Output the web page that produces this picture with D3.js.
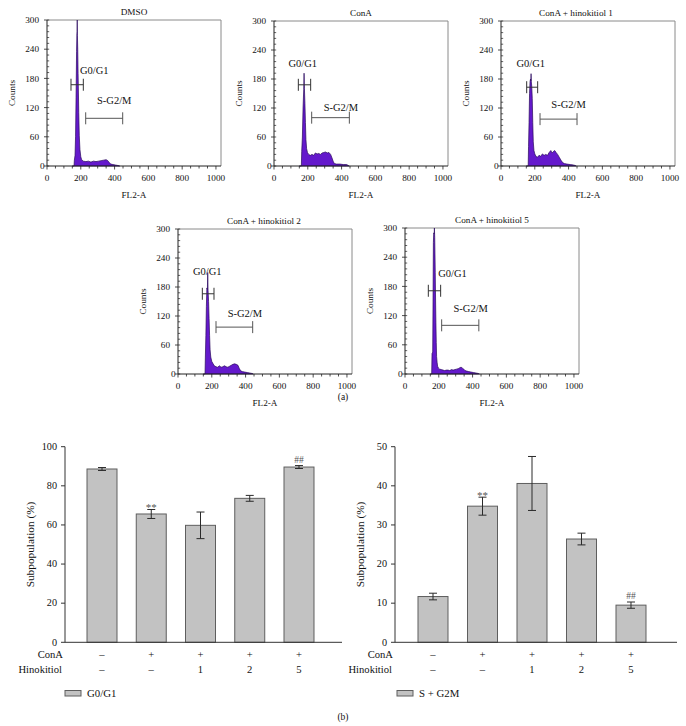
<!DOCTYPE html>
<html><head><meta charset="utf-8">
<script src="https://cdn.jsdelivr.net/npm/d3@7"></script>
<style>
html,body{margin:0;padding:0;background:#fff;}
svg{display:block;}
text{font-family:"Liberation Serif","DejaVu Serif",serif;fill:#111;}
</style>
</head><body>
<svg id="c" width="686" height="726"></svg>
<script>
// ---------------- DATA ----------------
const histTitles = ["DMSO", "ConA", "ConA + hinokitiol 1", "ConA + hinokitiol 2", "ConA + hinokitiol 5"];
const histXTicks = [0, 200, 400, 600, 800, 1000];
const histYTicks = [0, 60, 120, 180, 240, 300];

// [FL2-A channel, counts]
const histDMSO = [[150,0],[160,0],[162,12],[166,22],[169,60],[172,140],[175,235],[177,272],[178,276],[179,300],[180,268],[182,240],[184,190],[186,150],[188,110],[191,62],[195,34],[200,19],[205,13],[215,10],[230,9],[245,10],[260,8],[275,10],[290,9],[305,10],[320,11],[335,12],[350,13],[360,11],[368,7],[378,4],[390,3],[405,2],[420,1],[430,0]];
const histConA = [[150,0],[162,0],[164,30],[168,60],[172,120],[176,158],[178,192],[180,160],[183,130],[186,90],[189,55],[193,36],[198,28],[205,24],[215,22],[225,24],[235,22],[245,27],[255,25],[265,26],[275,24],[285,27],[295,28],[305,29],[315,27],[325,28],[335,24],[343,17],[350,10],[357,5],[370,4],[390,4],[410,3],[430,3],[440,1],[445,0]];
const histH1 = [[150,0],[161,0],[163,40],[166,90],[169,150],[172,175],[175,180],[177,176],[178,191],[179,176],[182,165],[185,140],[188,90],[191,50],[195,32],[200,25],[207,20],[215,18],[225,22],[235,20],[245,25],[255,22],[265,24],[275,22],[285,28],[295,32],[302,27],[310,30],[318,32],[326,28],[335,24],[345,18],[355,12],[365,7],[375,5],[390,4],[410,3],[430,2],[440,1],[445,0]];
const histH2 = [[150,0],[160,0],[162,35],[165,80],[168,140],[171,178],[174,175],[176,210],[178,172],[181,150],[184,115],[187,80],[190,50],[194,35],[200,26],[208,21],[215,17],[225,15],[235,14],[245,17],[255,14],[265,15],[275,17],[285,15],[295,14],[305,16],[315,18],[325,20],[335,21],[345,20],[355,18],[362,12],[370,7],[380,5],[395,4],[410,3],[425,2],[440,1],[445,0]];
const histH5 = [[150,0],[158,0],[160,42],[164,45],[166,150],[168,270],[170,290],[173,288],[174,300],[176,280],[179,208],[181,150],[183,105],[185,65],[187,36],[190,24],[193,16],[198,12],[205,10],[215,9],[225,8],[235,7],[245,8],[255,8],[265,7],[275,9],[285,8],[295,9],[305,10],[315,11],[325,13],[332,14],[340,12],[348,10],[355,7],[365,6],[377,5],[390,4],[405,3],[420,2],[435,1],[440,0]];
const histSeries = [histDMSO, histConA, histH1, histH2, histH5];

// gates: [from channel, to channel, counts level]
const gateG0G1 = [[142,215,167],[144,217,168],[152,217,163],[144,213,166],[138,211,171]];
const gateSG2M = [[229,448,98],[223,446,100],[231,450,97],[225,442,97],[217,437,100]];
const gateNames = ["G0/G1", "S-G2/M"];

// bar charts
const conaRow = ["\u2013", "+", "+", "+", "+"];
const hinoRow = ["\u2013", "\u2013", "1", "2", "5"];
const groups = ["g1", "g2", "g3", "g4", "g5"];
const g0g1Mean = [88.6, 65.6, 59.8, 73.6, 89.6];
const g0g1Err  = [0.75, 2.3, 6.8, 1.5, 0.75];
const g0g1Sig  = ["", "**", "", "", "##"];
const sg2mMean = [11.7, 34.8, 40.6, 26.4, 9.5];
const sg2mErr  = [0.85, 2.3, 6.9, 1.5, 0.8];
const sg2mSig  = ["", "**", "", "", "##"];
const g0g1Ticks = [0, 20, 40, 60, 80, 100];
const sg2mTicks = [0, 10, 20, 30, 40, 50];

// ---------------- LAYOUT ----------------
const histLayout = [
  {x0:47,  yTop:20,  yBot:166, tdx:0,   gl:{ch:195,c:190,a:"start"},  sl:{ch:398,c:128}},
  {x0:274, yTop:21,  yBot:166, tdx:0,   gl:{ch:170,c:205,a:"middle"}, sl:{ch:396,c:113}},
  {x0:501, yTop:21,  yBot:166, tdx:-12, gl:{ch:176,c:205,a:"middle"}, sl:{ch:400,c:120}},
  {x0:178, yTop:229, yBot:374, tdx:-1,  gl:{ch:173,c:204,a:"middle"}, sl:{ch:396,c:118}},
  {x0:405, yTop:228, yBot:374, tdx:0,   gl:{ch:197,c:199,a:"start"},  sl:{ch:389,c:128}}
];

const svg = d3.select("#c");

function drawHist(i) {
  const L = histLayout[i];
  const g = svg.append("g");
  const x = d3.scaleLinear().domain([0, 1024]).range([L.x0, L.x0 + 173]);
  const y = d3.scaleLinear().domain([0, 300]).range([L.yBot, L.yTop]);
  const xr = L.x0 + 174;

  g.append("line").attr("x1", L.x0).attr("x2", xr).attr("y1", L.yTop).attr("y2", L.yTop).attr("stroke", "#8a8a8a").attr("stroke-width", 1);
  g.append("line").attr("x1", xr).attr("x2", xr).attr("y1", L.yTop).attr("y2", L.yBot).attr("stroke", "#8a8a8a").attr("stroke-width", 1);

  const area = d3.area().x(d => x(d[0])).y0(y(0)).y1(d => y(d[1]));
  g.append("path").datum(histSeries[i]).attr("d", area)
    .attr("fill", "#6419cc").attr("stroke", "#2a0a5c").attr("stroke-width", 0.7);

  g.append("line").attr("x1", L.x0).attr("x2", L.x0).attr("y1", L.yTop).attr("y2", L.yBot).attr("stroke", "#222").attr("stroke-width", 1);
  g.append("line").attr("x1", L.x0).attr("x2", xr).attr("y1", L.yBot).attr("y2", L.yBot).attr("stroke", "#222").attr("stroke-width", 1);

  g.selectAll(".xm").data(d3.range(0, 1001, 50)).enter().append("line")
    .attr("x1", d => x(d)).attr("x2", d => x(d)).attr("y1", L.yBot).attr("y2", d => L.yBot + (d % 200 === 0 ? 3.5 : 2.5))
    .attr("stroke", "#222").attr("stroke-width", 0.8);
  g.selectAll(".xl").data(histXTicks).enter().append("text")
    .attr("x", d => x(d)).attr("y", L.yBot + 14.5).attr("text-anchor", "middle")
    .attr("font-size", 9.2).text(d => d);

  g.selectAll(".ym").data(d3.range(0, 301, 12)).enter().append("line")
    .attr("x1", L.x0).attr("x2", L.x0 + 2.2).attr("y1", d => y(d)).attr("y2", d => y(d))
    .attr("stroke", "#222").attr("stroke-width", 0.7);
  g.selectAll(".yM").data(histYTicks).enter().append("line")
    .attr("x1", L.x0 - 3).attr("x2", L.x0).attr("y1", d => y(d)).attr("y2", d => y(d))
    .attr("stroke", "#222").attr("stroke-width", 0.8);
  g.selectAll(".yl").data(histYTicks).enter().append("text")
    .attr("x", d => d === 0 ? L.x0 - 2.5 : L.x0 - 8).attr("y", d => y(d) + 3.2)
    .attr("text-anchor", "end").attr("font-size", 9.2).text(d => d);

  g.append("text").attr("x", L.x0 + 87 + L.tdx).attr("y", L.yTop - 5.5).attr("text-anchor", "middle")
    .attr("font-size", 9.2).text(histTitles[i]);
  g.append("text").attr("x", L.x0 + 87).attr("y", L.yBot + 32).attr("text-anchor", "middle")
    .attr("font-size", 9.2).text("FL2-A");
  g.append("text").attr("transform", `translate(${L.x0 - 32},${(L.yTop + L.yBot) / 2}) rotate(-90)`)
    .attr("text-anchor", "middle").attr("font-size", 9.2).text("Counts");

  const gates = [gateG0G1[i], gateSG2M[i]];
  gates.forEach((gt, k) => {
    const col = k === 0 ? "#333" : "#555";
    const yy = y(gt[2]);
    g.append("line").attr("x1", x(gt[0])).attr("x2", x(gt[1])).attr("y1", yy).attr("y2", yy).attr("stroke", col).attr("stroke-width", 1);
    [gt[0], gt[1]].forEach(c => {
      g.append("line").attr("x1", x(c)).attr("x2", x(c)).attr("y1", yy - 6).attr("y2", yy + 6).attr("stroke", col).attr("stroke-width", 1);
    });
  });
  g.append("text").attr("x", x(L.gl.ch)).attr("y", y(L.gl.c)).attr("text-anchor", L.gl.a)
    .attr("font-size", 10.5).text(gateNames[0]);
  g.append("text").attr("x", x(L.sl.ch)).attr("y", y(L.sl.c)).attr("text-anchor", "middle")
    .attr("font-size", 10.5).text(gateNames[1]);
}
for (let i = 0; i < 5; i++) drawHist(i);

svg.append("text").attr("x", 343).attr("y", 400).attr("text-anchor", "middle").attr("font-size", 9.5).text("(a)");
svg.append("text").attr("x", 343).attr("y", 720).attr("text-anchor", "middle").attr("font-size", 9.5).text("(b)");

// ---------------- BAR CHARTS ----------------
function drawBars(cfg) {
  const g = svg.append("g");
  const x = d3.scaleBand().domain(groups).range(cfg.xr).paddingInner(cfg.p).paddingOuter(cfg.p);
  const y = d3.scaleLinear().domain([0, cfg.max]).range([642.3, 446.7]);
  const ax = cfg.axisX;

  g.selectAll(".bar").data(cfg.mean).enter().append("rect")
    .attr("x", (d, i) => x(groups[i])).attr("width", x.bandwidth())
    .attr("y", d => y(d)).attr("height", d => y(0) - y(d))
    .attr("fill", "#c2c2c2").attr("stroke", "#5e5e5e").attr("stroke-width", 1);

  cfg.mean.forEach((m, i) => {
    const cx = x(groups[i]) + x.bandwidth() / 2;
    const e = cfg.err[i];
    g.append("line").attr("x1", cx).attr("x2", cx).attr("y1", y(m + e)).attr("y2", y(m - e)).attr("stroke", "#2a2a2a").attr("stroke-width", 1);
    [m + e, m - e].forEach(v => g.append("line").attr("x1", cx - 4).attr("x2", cx + 4).attr("y1", y(v)).attr("y2", y(v)).attr("stroke", "#2a2a2a").attr("stroke-width", 1));
    if (cfg.sig[i]) {
      g.append("text").attr("x", cx).attr("y", y(m + e) - (cfg.sig[i] === "**" ? -1.5 : 3))
        .attr("text-anchor", "middle").attr("font-size", cfg.sig[i] === "**" ? 11 : 9.5)
        .style("fill", "#555").text(cfg.sig[i]);
    }
  });

  g.append("line").attr("x1", ax).attr("x2", ax).attr("y1", y(cfg.max)).attr("y2", y(0)).attr("stroke", "#333").attr("stroke-width", 1);
  g.append("line").attr("x1", ax).attr("x2", cfg.axisEnd).attr("y1", y(0)).attr("y2", y(0)).attr("stroke", "#333").attr("stroke-width", 1);
  g.selectAll(".t").data(cfg.ticks).enter().append("line")
    .attr("x1", ax - 4).attr("x2", ax).attr("y1", d => y(d)).attr("y2", d => y(d)).attr("stroke", "#333").attr("stroke-width", 1);
  g.selectAll(".tl").data(cfg.ticks).enter().append("text")
    .attr("x", ax - 8).attr("y", d => y(d) + 3.3).attr("text-anchor", "end").attr("font-size", 10.2).text(d => d);
  g.append("text").attr("transform", `translate(${ax - 31},${(y(0) + y(cfg.max)) / 2}) rotate(-90)`)
    .attr("text-anchor", "middle").attr("font-size", 11.3).text("Subpopulation (%)");

  g.append("text").attr("x", ax - 2).attr("y", 658).attr("text-anchor", "end").attr("font-size", 10.6).text("ConA");
  g.append("text").attr("x", ax - 3).attr("y", 673).attr("text-anchor", "end").attr("font-size", 10.6).text("Hinokitiol");
  conaRow.forEach((s, i) => g.append("text").attr("x", x(groups[i]) + x.bandwidth() / 2).attr("y", 658)
    .attr("text-anchor", "middle").attr("font-size", 10.6).text(s));
  hinoRow.forEach((s, i) => g.append("text").attr("x", x(groups[i]) + x.bandwidth() / 2).attr("y", 673)
    .attr("text-anchor", "middle").attr("font-size", 10.6).text(s));

  g.append("rect").attr("x", cfg.legX).attr("y", 690.5).attr("width", 16).attr("height", 5.5)
    .attr("fill", "#c2c2c2").attr("stroke", "#5e5e5e").attr("stroke-width", 1);
  g.append("text").attr("x", cfg.legX + 22).attr("y", 697).attr("font-size", 10.8).text(cfg.legend);
}

drawBars({mean: g0g1Mean, err: g0g1Err, sig: g0g1Sig, max: 100, ticks: g0g1Ticks,
  xr: [67.75, 333.25], p: 0.391, axisX: 65, axisEnd: 342, legX: 65, legend: "G0/G1"});
drawBars({mean: sg2mMean, err: sg2mErr, sig: sg2mSig, max: 50, ticks: sg2mTicks,
  xr: [398.5, 665.5], p: 0.394, axisX: 395, axisEnd: 677, legX: 397, legend: "S + G2M"});
</script>
</body></html>
